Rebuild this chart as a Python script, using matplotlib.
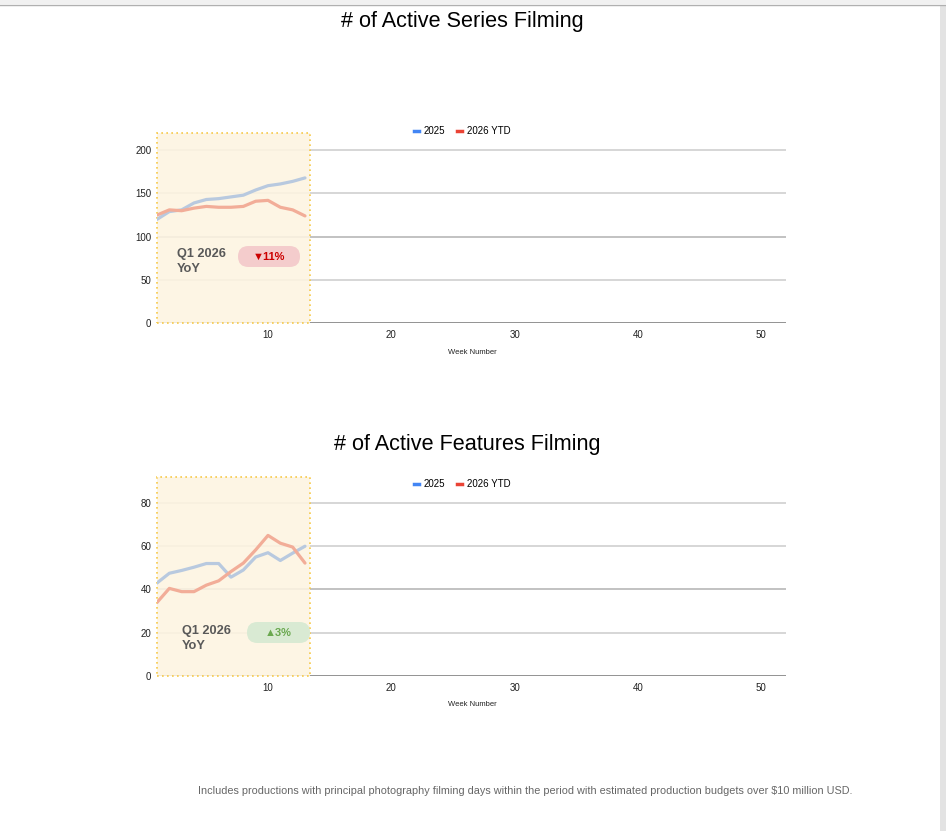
import matplotlib
matplotlib.use("Agg")
import matplotlib.pyplot as plt
from matplotlib.patches import FancyBboxPatch, Rectangle
from matplotlib.lines import Line2D

plt.rcParams['font.family'] = ['Liberation Sans', 'DejaVu Sans']

# data: weeks of Q1
weeks = list(range(1, 14))
series_2025 = [120, 129, 131, 139, 143, 144, 146, 148, 154, 159, 161, 164, 168]
series_2026 = [125, 131, 130, 133, 135, 134, 134, 135, 141, 142, 134, 131, 124]
features_2025 = [43, 47.5, 48.8, 50.3, 52, 52, 45.7, 49, 55, 57, 53.4, 56.8, 60]
features_2026 = [34, 40.5, 39, 39, 42, 44, 48.3, 52.2, 58.3, 65, 61.4, 59.6, 52.2]
x_ticks = [10, 20, 30, 40, 50]
series_yticks = [0, 50, 100, 150, 200]
features_yticks = [0, 20, 40, 60, 80]
series_yoy = "\u25bc11%"
features_yoy = "\u25b23%"
footnote = ("Includes productions with principal photography filming days within the period "
            "with estimated production budgets over $10 million USD.")

W, H = 946, 831
fig = plt.figure(figsize=(W / 100, H / 100), dpi=100)

# browser chrome bits
fig.patches.append(Rectangle((0, 1 - 4 / H), 1, 4 / H, transform=fig.transFigure,
                             facecolor='#f1f1f1', edgecolor='none'))
fig.add_artist(Line2D([0, 1], [1 - 4.5 / H] * 2, transform=fig.transFigure, color='#b0b0b0', lw=1))
fig.patches.append(Rectangle((940 / W, 0), 6 / W, 1 - 5 / H, transform=fig.transFigure,
                             facecolor='#e3e3e3', edgecolor='none'))

blue_leg, red_leg = '#4285f4', '#ea4335'
blue_ln, red_ln = '#b8c9df', '#f2ad98'


def draw(rect, ytop, yticks, s25, s26, title, title_xy, leg_y, pill, q1_xy):
    ax = fig.add_axes(rect)
    ax.set_xlim(1, 52)
    ax.set_ylim(0, ytop)
    for t in yticks[1:]:
        ax.axhline(t, color='#b8b8b8' if t == yticks[2] else '#cfcfcf', lw=1.2, zorder=1)
    ax.axhline(0, color='#8a8a8a', lw=1.3, zorder=1)
    ax.axvspan(1, 13.4, facecolor='#fdf4e1', edgecolor='none', alpha=0.88, zorder=1.5)
    ax.add_patch(Rectangle((1, 0), 12.4, ytop, facecolor='none', edgecolor='#f6c94a',
                           ls=(0, (1, 2)), lw=1.2, zorder=1.6, clip_on=False))
    ax.plot(weeks, s25, color=blue_ln, lw=2.3, solid_capstyle='round', zorder=2)
    ax.plot(weeks, s26, color=red_ln, lw=2.3, solid_capstyle='round', zorder=2)
    for s in ax.spines.values():
        s.set_visible(False)
    ax.set_xticks(x_ticks)
    ax.set_yticks(yticks)
    ax.tick_params(length=0, labelsize=7, colors='#222222')
    ax.tick_params(axis='y', pad=4)
    ax.tick_params(axis='x', pad=5)
    handles = [Line2D([], [], color=blue_leg, lw=2.5), Line2D([], [], color=red_leg, lw=2.5)]
    ax.legend(handles, ['2025', '2026 YTD'], loc='center', bbox_to_anchor=(0.485, leg_y),
              ncol=2, frameon=False, fontsize=7, handlelength=0.5, handletextpad=0.5,
              columnspacing=1.2)
    tx, ty = title_xy
    fig.text(tx / W, 1 - ty / H, title, ha='center', va='center', fontsize=15.6)
    bottom_px = H - rect[1] * H
    fig.text(472 / W, 1 - (bottom_px + 29) / H, 'Week Number', ha='center', va='center',
             fontsize=5.5, color='#222222')
    # YoY pill
    (x0, y0, x1, y1), txt, bg, fg = pill
    fig.patches.append(FancyBboxPatch((x0 / W, 1 - y1 / H), (x1 - x0) / W, (y1 - y0) / H,
                                      boxstyle='round,pad=0,rounding_size=0.011',
                                      mutation_aspect=W / H, transform=fig.transFigure,
                                      facecolor=bg, edgecolor='none', zorder=3))
    fig.text((x0 + x1) / 2 / W, 1 - (y0 + y1) / 2 / H, txt, ha='center', va='center',
             fontsize=8, fontweight='bold', color=fg, zorder=4)
    qx, qy = q1_xy
    fig.text(qx / W, 1 - qy / H, 'Q1 2026', ha='left', va='center', fontsize=9.2,
             fontweight='bold', color='#595959')
    fig.text(qx / W, 1 - (qy + 15) / H, 'YoY', ha='left', va='center', fontsize=9.2,
             fontweight='bold', color='#595959')
    return ax


draw([157 / W, 1 - 323 / H, 629 / W, 190 / H], 220, series_yticks, series_2025, series_2026,
     '# of Active Series Filming', (462, 22), 1.01,
     ((238, 246, 300, 267), series_yoy, '#f4cccc', '#cc0000'), (177, 254))
draw([157 / W, 1 - 676 / H, 629 / W, 199 / H], 92, features_yticks, features_2025, features_2026,
     '# of Active Features Filming', (467, 444), 0.965,
     ((247, 622, 310, 643), features_yoy, '#d9ead3', '#6aa84f'), (182, 631))

fig.text(525.5 / W, 1 - 791 / H, footnote, ha='center', va='center', fontsize=7.8,
         color='#666666')

fig.savefig('out.png', dpi=100)
